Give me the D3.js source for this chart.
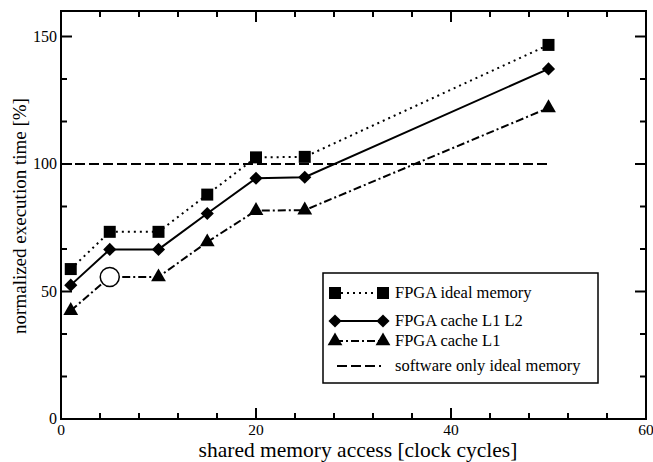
<!DOCTYPE html>
<html>
<head>
<meta charset="utf-8">
<script src="https://cdn.jsdelivr.net/npm/d3@7"></script>
<style>
  html, body { margin: 0; padding: 0; background: #fff; }
</style>
</head>
<body>
<svg id="chart" width="653" height="462"></svg>
<script>
// Shared memory access latency (clock cycles)
const cycles = [1, 5, 10, 15, 20, 25, 50];
// Normalized execution time [%] per configuration
const idealMemory = [58.8, 73.4, 73.4, 88.0, 102.6, 102.8, 146.7];
const cacheL1L2   = [52.5, 66.5, 66.5, 80.6, 94.4, 94.8, 137.3];
const cacheL1     = [42.5, 55.7, 55.7, 69.4, 81.7, 81.9, 122.0];
// Software-only reference level
const softwareLevel = [[0, 100], [50, 100]];
// Highlighted point on the cache L1 curve
const highlight = [5, 55.7];

const xTicks = [0, 20, 40, 60];
const yTicks = [0, 50, 100, 150];
const seriesNames = ["FPGA ideal memory", "FPGA cache L1 L2", "FPGA cache L1", "software only ideal memory"];

const FONT = "'Liberation Serif', 'Times New Roman', Times, 'DejaVu Serif', serif";

const svg = d3.select("#chart").attr("font-family", FONT);
const M = { left: 61, right: 646, top: 11, bottom: 419 };

const x = d3.scaleLinear().domain([0, 60]).range([M.left, M.right]);
const y = d3.scaleLinear().domain([0, 160]).range([M.bottom, M.top]);

const g = svg.append("g");

// Frame
g.append("rect")
  .attr("x", M.left).attr("y", M.top)
  .attr("width", M.right - M.left).attr("height", M.bottom - M.top)
  .attr("fill", "none").attr("stroke", "#000").attr("stroke-width", 2);

// Inward ticks on all four sides
const xMinor = d3.range(0, 61, 4).filter(v => v % 20 !== 0);
const yMinor = d3.range(0, 160, 50 / 3).map(v => +v.toFixed(3)).filter(v => Math.abs(v % 50) > 0.01 && Math.abs(v % 50 - 50) > 0.01);
const tickG = g.append("g").attr("stroke", "#000").attr("stroke-width", 2);
function xTick(v, len) {
  tickG.append("line").attr("x1", x(v)).attr("x2", x(v)).attr("y1", M.bottom).attr("y2", M.bottom - len);
  tickG.append("line").attr("x1", x(v)).attr("x2", x(v)).attr("y1", M.top).attr("y2", M.top + len);
}
function yTick(v, len) {
  tickG.append("line").attr("y1", y(v)).attr("y2", y(v)).attr("x1", M.left).attr("x2", M.left + len);
  tickG.append("line").attr("y1", y(v)).attr("y2", y(v)).attr("x1", M.right).attr("x2", M.right - len);
}
xTicks.forEach(v => xTick(v, 11));
xMinor.forEach(v => xTick(v, 6));
yTicks.forEach(v => yTick(v, 11));
yMinor.forEach(v => yTick(v, 6));

// Tick labels
g.selectAll(".xl").data(xTicks).join("text")
  .attr("font-family", FONT)
  .attr("x", d => x(d)).attr("y", 434.5)
  .attr("text-anchor", "middle").attr("font-size", 15.5)
  .text(d => d);
g.selectAll(".yl").data(yTicks).join("text")
  .attr("font-family", FONT)
  .attr("x", M.left - 4).attr("y", d => y(d) + 5)
  .attr("text-anchor", "end").attr("font-size", 16)
  .text(d => d);

// Axis titles
g.append("text")
  .attr("font-family", FONT)
  .attr("x", 358).attr("y", 457)
  .attr("text-anchor", "middle").attr("font-size", 21.5)
  .text("shared memory access [clock cycles]");
g.append("text")
  .attr("font-family", FONT)
  .attr("transform", `translate(26, 216) rotate(-90)`)
  .attr("text-anchor", "middle").attr("font-size", 19)
  .text("normalized execution time [%]");

const line = d3.line().x(d => x(d[0])).y(d => y(d[1]));
const zip = vals => cycles.map((c, i) => [c, vals[i]]);

const styles = {
  dotted: "2,4",
  solid: null,
  dashdot: "8,3,2,3",
  dashed: "10,4"
};

// Reference line
g.append("path").datum(softwareLevel).attr("d", line)
  .attr("fill", "none").attr("stroke", "#000").attr("stroke-width", 2)
  .attr("stroke-dasharray", styles.dashed);

// Marker shapes
const sym = {
  square: d3.symbol().type(d3.symbolSquare).size(144),
  diamond: d3.symbol().type(d3.symbolDiamond2).size(110),
  triangle: d3.symbol().type(d3.symbolTriangle).size(95)
};

function drawSeries(vals, dash, shape) {
  const pts = zip(vals);
  g.append("path").datum(pts).attr("d", line)
    .attr("fill", "none").attr("stroke", "#000").attr("stroke-width", 2)
    .attr("stroke-dasharray", dash);
  g.selectAll(null).data(pts).join("path")
    .attr("transform", d => `translate(${x(d[0])},${y(d[1])})`)
    .attr("d", shape).attr("fill", "#000");
}
drawSeries(idealMemory, styles.dotted, sym.square);
drawSeries(cacheL1L2, styles.solid, sym.diamond);
drawSeries(cacheL1, styles.dashdot, sym.triangle);

// Open circle marker
g.append("circle")
  .attr("cx", x(highlight[0])).attr("cy", y(highlight[1])).attr("r", 9.5)
  .attr("fill", "#fff").attr("stroke", "#000").attr("stroke-width", 1.5);

// Legend
const lg = g.append("g");
lg.append("rect").attr("x", 323).attr("y", 273).attr("width", 275).attr("height", 110)
  .attr("fill", "#fff").attr("stroke", "#000").attr("stroke-width", 1.5);
const rows = [
  { name: seriesNames[0], dash: styles.dotted, shape: sym.square, y: 293 },
  { name: seriesNames[1], dash: styles.solid, shape: sym.diamond, y: 321 },
  { name: seriesNames[2], dash: styles.dashdot, shape: sym.triangle, y: 341 },
  { name: seriesNames[3], dash: styles.dashed, shape: null, y: 366 }
];
rows.forEach(r => {
  const x0 = 335, x1 = 383;
  lg.append("line").attr("x1", r.shape ? x0 : x0 + 2).attr("x2", r.shape ? x1 : x1 - 2)
    .attr("y1", r.y).attr("y2", r.y)
    .attr("stroke", "#000").attr("stroke-width", 2).attr("stroke-dasharray", r.dash);
  if (r.shape) {
    [x0, x1].forEach(px => lg.append("path")
      .attr("transform", `translate(${px},${r.y})`).attr("d", r.shape).attr("fill", "#000"));
  }
  lg.append("text").attr("font-family", FONT)
    .attr("x", 395).attr("y", r.y + 5).attr("font-size", 16.5).text(r.name);
});
</script>
</body>
</html>
